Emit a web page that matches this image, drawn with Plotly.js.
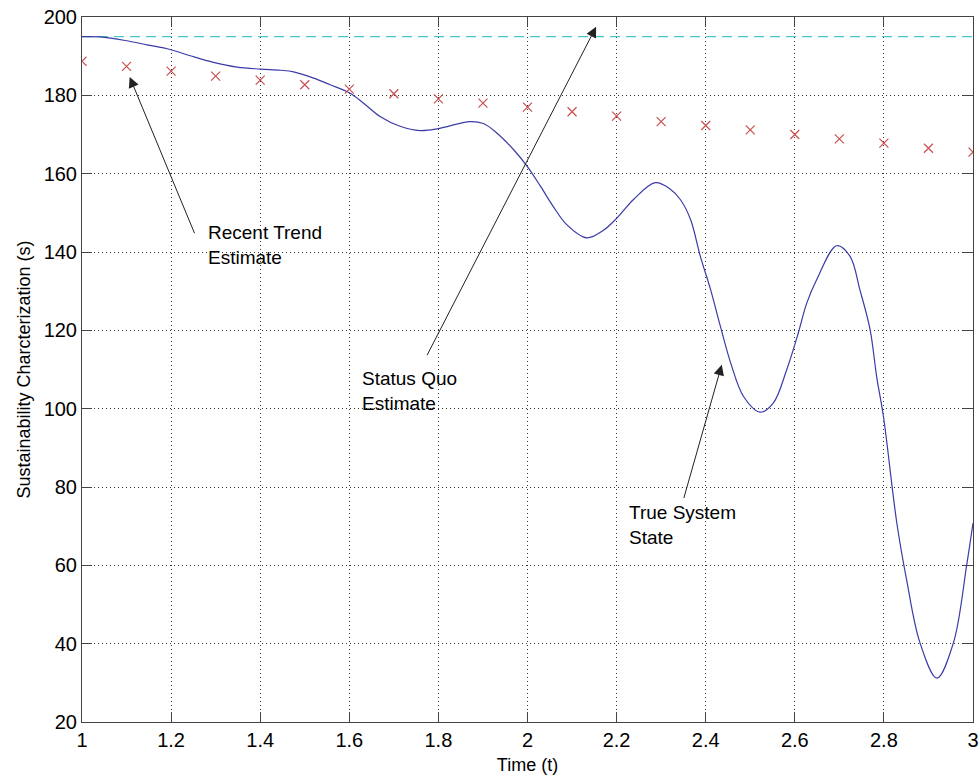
<!DOCTYPE html>
<html>
<head>
<meta charset="utf-8">
<script src="https://cdn.plot.ly/plotly-3.0.1.min.js"></script>
<style>html,body{margin:0;padding:0;background:#fff;}#chart{width:979px;height:775px;}</style>
</head>
<body>
<div id="chart"></div>
<script>
// True system state
var trueX = [1.000, 1.041, 1.097, 1.146, 1.198, 1.243, 1.295, 1.348, 1.400, 1.445, 1.475, 1.520, 1.557, 1.601, 1.632, 1.669, 1.714, 1.759, 1.800, 1.871, 1.901, 1.931, 1.969, 1.999, 2.029, 2.058, 2.088, 2.133, 2.170, 2.201, 2.238, 2.287, 2.320, 2.343, 2.366, 2.388, 2.411, 2.433, 2.456, 2.485, 2.522, 2.552, 2.582, 2.607, 2.627, 2.649, 2.694, 2.724, 2.746, 2.769, 2.784, 2.799, 2.829, 2.851, 2.881, 2.919, 2.956, 2.986, 3.000];
var trueY = [195.0, 194.9, 194.0, 192.9, 191.7, 190.1, 188.4, 187.2, 186.7, 186.4, 186.0, 184.4, 182.7, 180.6, 178.0, 174.6, 172.1, 171.0, 171.5, 173.3, 172.8, 170.4, 166.1, 161.9, 156.8, 151.6, 147.0, 143.6, 145.5, 148.7, 153.4, 157.7, 156.1, 153.4, 148.3, 138.9, 130.4, 121.0, 111.7, 103.1, 99.1, 101.5, 110.0, 119.0, 127.0, 132.9, 141.6, 138.9, 130.4, 120.2, 108.0, 98.0, 70.8, 56.3, 40.2, 31.2, 40.2, 60.2, 70.8];
// Recent trend estimate (x markers)
var trendX = [1.0, 1.1, 1.2, 1.3, 1.4, 1.5, 1.6, 1.7, 1.8, 1.9, 2.0, 2.1, 2.2, 2.3, 2.4, 2.5, 2.6, 2.7, 2.8, 2.9, 3.0];
var trendY = [188.7, 187.4, 186.2, 184.9, 183.9, 182.7, 181.6, 180.4, 179.1, 178.0, 177.0, 175.8, 174.7, 173.3, 172.3, 171.2, 170.0, 168.9, 167.8, 166.5, 165.5];
// Status quo estimate (dashed)
var quoX = [1.0, 3.0];
var quoY = [195, 195];
// Tick labels
var xTicks = [1, 1.2, 1.4, 1.6, 1.8, 2, 2.2, 2.4, 2.6, 2.8, 3];
var xTickText = ['1', '1.2', '1.4', '1.6', '1.8', '2', '2.2', '2.4', '2.6', '2.8', '3'];
var yTicks = [20, 40, 60, 80, 100, 120, 140, 160, 180, 200];
// Annotation labels
var labels = ['Recent Trend<br>Estimate', 'Status Quo<br>Estimate', 'True System<br>State'];

var FONT = 'Liberation Sans, Arial, sans-serif';

var traces = [
  {x: quoX, y: quoY, mode: 'lines', line: {color: '#4cc6c6', width: 1.3, dash: '10px,6px'}, hoverinfo: 'skip'},
  {x: trueX, y: trueY, mode: 'lines', line: {color: '#3b3ba8', width: 1.2, shape: 'spline', smoothing: 1.0}, hoverinfo: 'skip'},
  {x: trendX, y: trendY, mode: 'markers', marker: {symbol: 'x-thin-open', size: 9, line: {color: '#c85050', width: 1.2}, color: '#c85050'}, hoverinfo: 'skip'}
];

var arrowStyle = {showarrow: true, arrowhead: 2, arrowsize: 2.1, arrowwidth: 1, arrowcolor: '#222', axref: 'x', ayref: 'y', xref: 'x', yref: 'y', text: ''};
function arrow(x, y, ax, ay) {
  var a = Object.assign({}, arrowStyle);
  a.x = x; a.y = y; a.ax = ax; a.ay = ay;
  return a;
}
function label(t, x, y) {
  return {text: t, x: x, y: y, xref: 'x', yref: 'y', showarrow: false, xanchor: 'left', yanchor: 'middle', align: 'left', font: {family: FONT, size: 19, color: '#000'}};
}

var layout = {
  width: 979, height: 775,
  margin: {l: 82, r: 6, t: 17, b: 53},
  paper_bgcolor: '#fff', plot_bgcolor: '#fff',
  showlegend: false,
  font: {family: FONT, size: 19, color: '#000'},
  xaxis: {
    range: [1, 3], tickvals: xTicks, ticktext: xTickText,
    showgrid: true, gridcolor: '#333', griddash: '1px,3px', gridwidth: 1,
    zeroline: false, showline: true, linecolor: '#444', linewidth: 1, mirror: 'ticks',
    ticks: 'inside', ticklen: 10, tickcolor: '#444',
    tickfont: {family: FONT, size: 20, color: '#000'},
    title: {text: 'Time (t)', font: {family: FONT, size: 18, color: '#000'}, standoff: 9}
  },
  yaxis: {
    range: [20, 200], tickvals: yTicks,
    showgrid: true, gridcolor: '#333', griddash: '1px,3px', gridwidth: 1,
    zeroline: false, showline: true, linecolor: '#444', linewidth: 1, mirror: 'ticks',
    ticks: 'inside', ticklen: 10, tickcolor: '#444',
    tickfont: {family: FONT, size: 20, color: '#000'},
    title: {text: 'Sustainability Charcterization (s)', font: {family: FONT, size: 18, color: '#000'}, standoff: 8}
  },
  annotations: [
    arrow(1.107, 184.7, 1.254, 144.4),
    arrow(2.154, 197.5, 1.773, 113.3),
    arrow(2.436, 111.2, 2.350, 76.8),
    label(labels[0], 1.278, 141.9),
    label(labels[1], 1.625, 104.6),
    label(labels[2], 2.224, 70.4)
  ]
};

Plotly.newPlot('chart', traces, layout, {staticPlot: true});
</script>
</body>
</html>
